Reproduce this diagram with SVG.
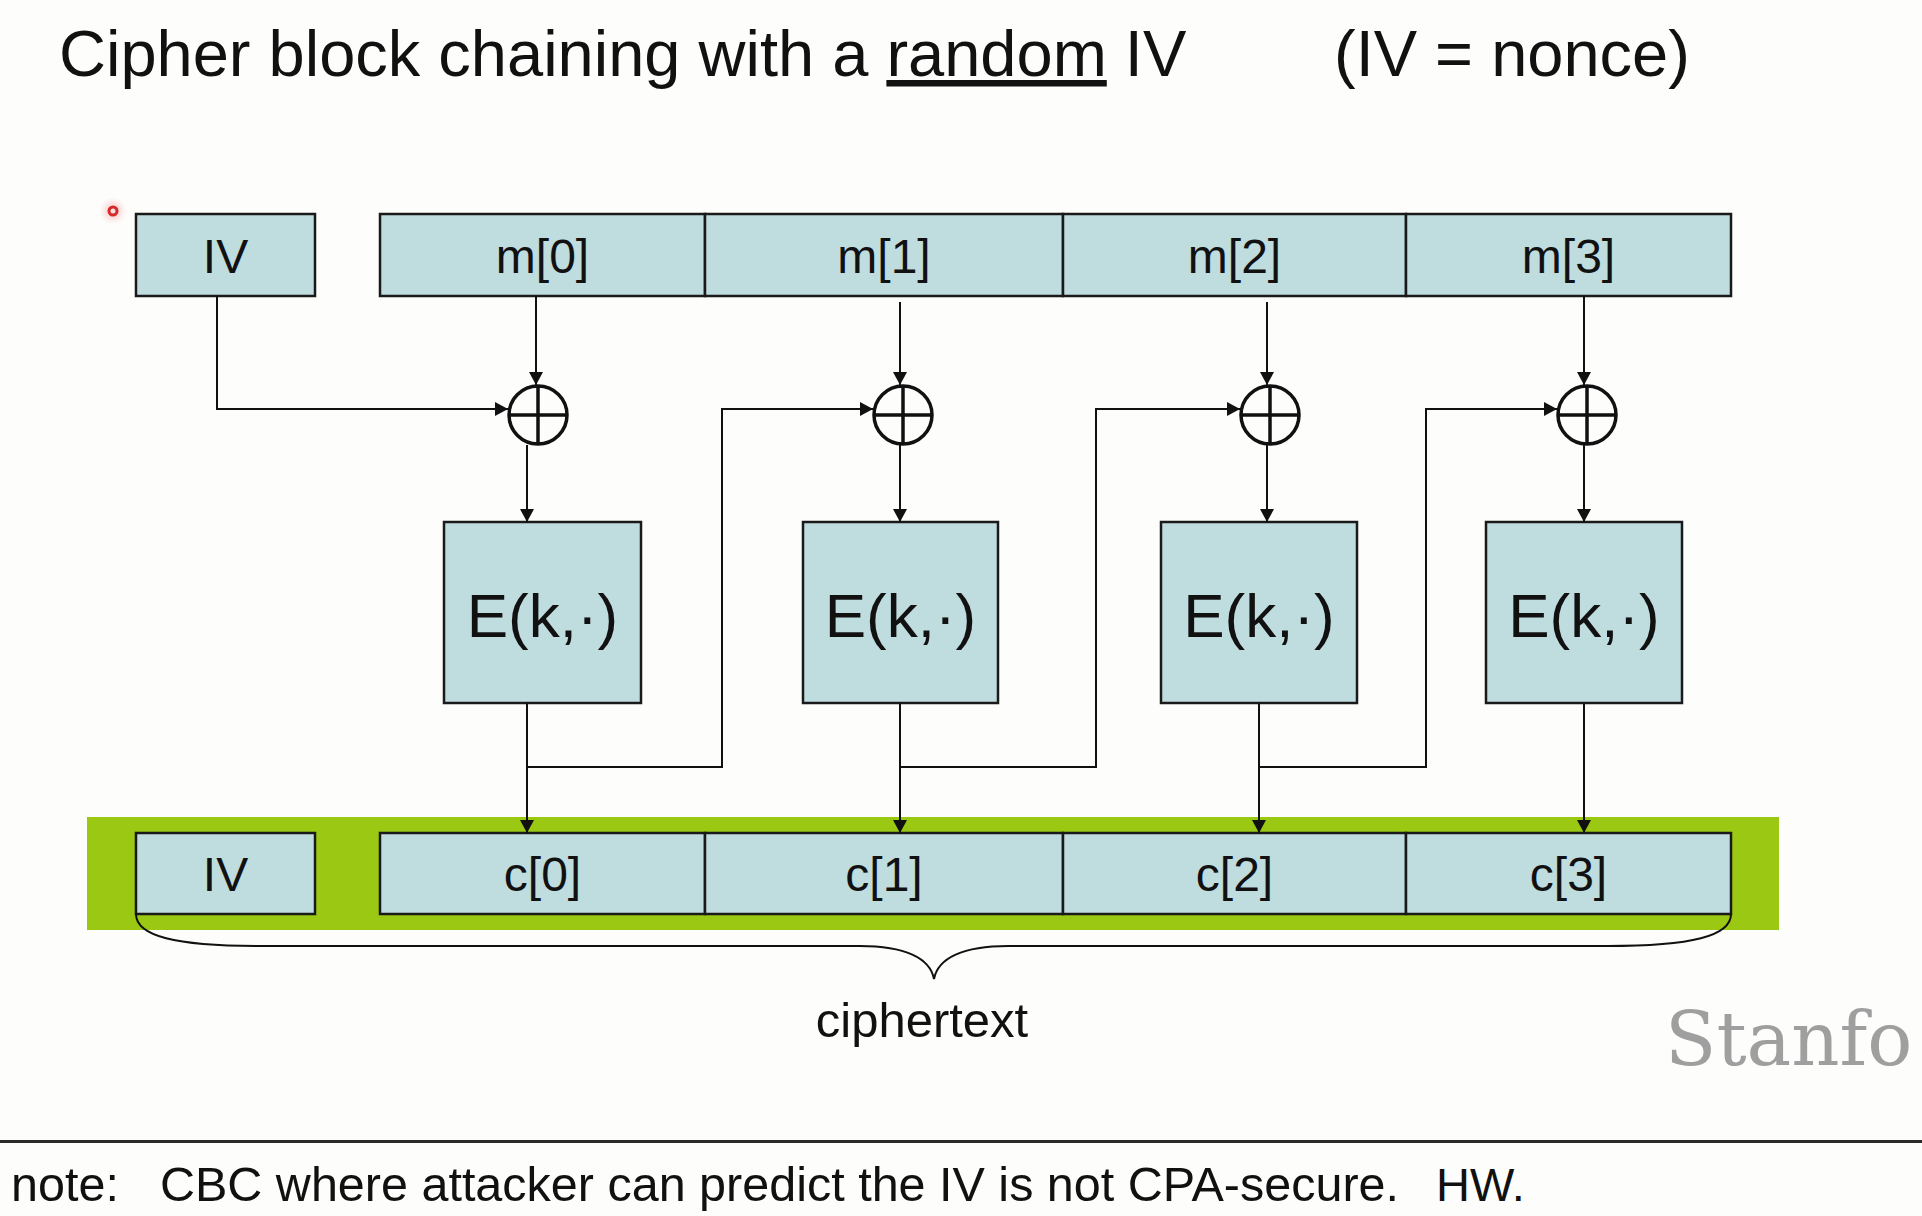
<svg xmlns="http://www.w3.org/2000/svg" width="1922" height="1216" viewBox="0 0 1922 1216">
<style>
.box{fill:#bfdcdf;stroke:#1a1a1a;stroke-width:2.5}
.lbl{font-family:"Liberation Sans",Arial,sans-serif;font-size:48px;fill:#111;text-anchor:middle}
.enc{font-family:"Liberation Sans",Arial,sans-serif;font-size:62px;fill:#111;text-anchor:middle}
.conn{fill:none;stroke:#111;stroke-width:2}
.xor{fill:none;stroke:#111;stroke-width:3.5}
.sans{font-family:"Liberation Sans",Arial,sans-serif;fill:#111}
</style>
<defs>
<marker id="ah" viewBox="0 0 13 14" markerWidth="13" markerHeight="14" refX="13" refY="7" orient="auto" markerUnits="userSpaceOnUse">
<path d="M0,0 L13,7 L0,14 z" fill="#111"/>
</marker>
<radialGradient id="glow">
<stop offset="0" stop-color="#f08080" stop-opacity="0.6"/>
<stop offset="1" stop-color="#f8c0c0" stop-opacity="0"/>
</radialGradient>
</defs>
<rect x="0" y="0" width="1922" height="1216" fill="#fdfdfc"/>

<g id="title">
<text class="sans" x="59" y="76" font-size="65">Cipher block chaining with a <tspan text-decoration="underline">random</tspan> IV</text>
<text class="sans" x="1334" y="76" font-size="65">(IV = nonce)</text>
</g>

<g id="pointer">
<circle cx="113" cy="211" r="14" fill="url(#glow)"/>
<circle cx="113" cy="211" r="4" fill="#f4dede" stroke="#d42a2a" stroke-width="3"/>
</g>

<g id="band">
<rect x="87" y="817" width="1692" height="113" fill="#9bc813"/>
</g>

<g id="iv-top"><rect class="box" x="136" y="214" width="179" height="82"/><text class="lbl" x="225.5" y="273">IV</text></g>
<g id="m0"><rect class="box" x="380" y="214" width="325" height="82"/><text class="lbl" x="542.5" y="273">m[0]</text></g>
<g id="m1"><rect class="box" x="705" y="214" width="358" height="82"/><text class="lbl" x="884" y="273">m[1]</text></g>
<g id="m2"><rect class="box" x="1063" y="214" width="343" height="82"/><text class="lbl" x="1234.5" y="273">m[2]</text></g>
<g id="m3"><rect class="box" x="1406" y="214" width="325" height="82"/><text class="lbl" x="1568.5" y="273">m[3]</text></g>

<g id="xor0"><circle class="xor" cx="538" cy="415" r="29"/><path class="xor" d="M509,415 H567 M538,386 V444"/></g>
<g id="xor1"><circle class="xor" cx="903" cy="415" r="29"/><path class="xor" d="M874,415 H932 M903,386 V444"/></g>
<g id="xor2"><circle class="xor" cx="1270" cy="415" r="29"/><path class="xor" d="M1241,415 H1299 M1270,386 V444"/></g>
<g id="xor3"><circle class="xor" cx="1587" cy="415" r="29"/><path class="xor" d="M1558,415 H1616 M1587,386 V444"/></g>

<g id="e0"><rect class="box" x="444" y="522" width="197" height="181"/><text class="enc" x="542.5" y="637">E(k,·)</text></g>
<g id="e1"><rect class="box" x="803" y="522" width="195" height="181"/><text class="enc" x="900.5" y="637">E(k,·)</text></g>
<g id="e2"><rect class="box" x="1161" y="522" width="196" height="181"/><text class="enc" x="1259" y="637">E(k,·)</text></g>
<g id="e3"><rect class="box" x="1486" y="522" width="196" height="181"/><text class="enc" x="1584" y="637">E(k,·)</text></g>

<g id="iv-bottom"><rect class="box" x="136" y="833" width="179" height="81"/><text class="lbl" x="225.5" y="891">IV</text></g>
<g id="c0"><rect class="box" x="380" y="833" width="325" height="81"/><text class="lbl" x="542.5" y="891">c[0]</text></g>
<g id="c1"><rect class="box" x="705" y="833" width="358" height="81"/><text class="lbl" x="884" y="891">c[1]</text></g>
<g id="c2"><rect class="box" x="1063" y="833" width="343" height="81"/><text class="lbl" x="1234.5" y="891">c[2]</text></g>
<g id="c3"><rect class="box" x="1406" y="833" width="325" height="81"/><text class="lbl" x="1568.5" y="891">c[3]</text></g>

<g id="connectors">
<path class="conn" d="M217,296 V409 H508" marker-end="url(#ah)"/>
<path class="conn" d="M536,296 V385" marker-end="url(#ah)"/>
<path class="conn" d="M527,445 V522" marker-end="url(#ah)"/>
<path class="conn" d="M527,703 V833" marker-end="url(#ah)"/>
<path class="conn" d="M527,767 H722 V409 H873" marker-end="url(#ah)"/>
<path class="conn" d="M900,302 V385" marker-end="url(#ah)"/>
<path class="conn" d="M900,445 V522" marker-end="url(#ah)"/>
<path class="conn" d="M900,703 V833" marker-end="url(#ah)"/>
<path class="conn" d="M900,767 H1096 V409 H1240" marker-end="url(#ah)"/>
<path class="conn" d="M1267,302 V385" marker-end="url(#ah)"/>
<path class="conn" d="M1267,445 V522" marker-end="url(#ah)"/>
<path class="conn" d="M1259,703 V833" marker-end="url(#ah)"/>
<path class="conn" d="M1259,767 H1426 V409 H1557" marker-end="url(#ah)"/>
<path class="conn" d="M1584,296 V385" marker-end="url(#ah)"/>
<path class="conn" d="M1584,445 V522" marker-end="url(#ah)"/>
<path class="conn" d="M1584,703 V833" marker-end="url(#ah)"/>
</g>

<g id="brace">
<path class="conn" d="M136,914 C136,936 175,946 260,946 L860,946 C905,946 930,958 934,979 C938,958 963,946 1008,946 L1607,946 C1692,946 1731,936 1731,914"/>
<text class="sans" x="922" y="1037" font-size="49" text-anchor="middle">ciphertext</text>
</g>

<text x="1665" y="1065" font-family="'DejaVu Serif','Liberation Serif',serif" font-size="75" fill="#9f9f9f">Stanfo</text>

<line x1="0" y1="1141.5" x2="1922" y2="1141.5" stroke="#2a2a2a" stroke-width="3"/>
<g id="note">
<text class="sans" x="11" y="1201" font-size="48.5">note:</text>
<text class="sans" x="160" y="1201" font-size="48.5">CBC where attacker can predict the IV is not CPA-secure.</text>
<text class="sans" x="1436" y="1201" font-size="47">HW.</text>
</g>
</svg>
